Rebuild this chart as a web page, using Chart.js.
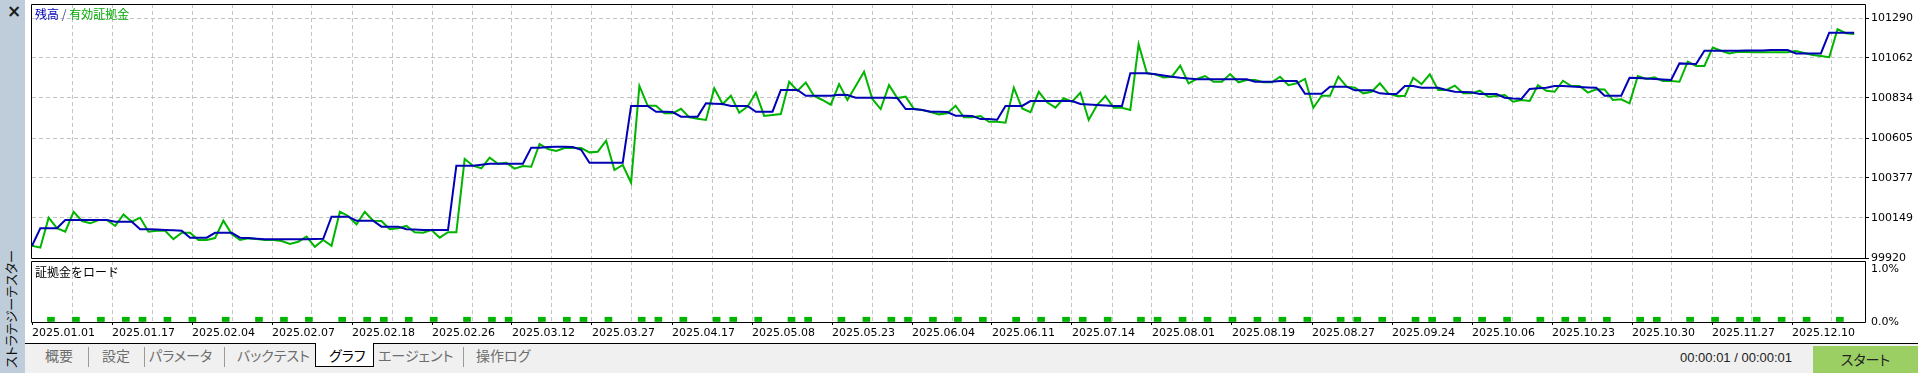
<!DOCTYPE html>
<html>
<head>
<meta charset="utf-8">
<script src="https://cdn.jsdelivr.net/npm/chart.js@4.4.1/dist/chart.umd.min.js"></script>
<style>
  html, body { margin: 0; padding: 0; }
  body { width: 1918px; height: 373px; position: relative; overflow: hidden; background: #fff; font-family: "Noto Sans CJK JP", sans-serif; }
  canvas { position: absolute; left: 0; }
  #side { position: absolute; left: 0; top: 0; width: 25px; height: 373px; background: #bfcddb; }
  #close { position: absolute; left: 7px; top: 1px; font: bold 17px "DejaVu Sans"; color: #1a1a1a; }
  #vtitle { position: absolute; left: 3px; top: 368px; transform: rotate(-90deg); transform-origin: 0 0; font-size: 13px; line-height: 16px; white-space: nowrap; color: #111; font-feature-settings: "palt"; }
  #legend { position: absolute; left: 35px; top: 6px; font-size: 12px; line-height: 16px; white-space: nowrap; }
  #loadTitle { position: absolute; left: 35px; top: 264px; font-size: 12px; line-height: 16px; color: #000; }
  #tabs { position: absolute; left: 25px; top: 343px; width: 1893px; height: 29px; background: #f0f0f0; border-top: 1px solid #000; }
  .tab { position: absolute; top: 347px; font-size: 14px; line-height: 17px; color: #6d6d6d; white-space: nowrap; font-feature-settings: "palt"; }
  .sep { position: absolute; top: 347px; width: 1px; height: 20px; background: #9a9a9a; }
  #active { position: absolute; left: 315px; top: 343px; width: 57px; height: 23px; background: #fff; border: 1px solid #000; border-top: none; }
  #timer { position: absolute; left: 1680px; top: 350px; font: 13px "Liberation Sans", sans-serif; color: #222; }
  #start { position: absolute; left: 1813px; top: 346px; width: 105px; height: 27px; background: #9bcf63; font-size: 14px; line-height: 26px; text-align: center; color: #222; font-feature-settings: "palt"; }
</style>
</head>
<body>
<div id="side"><div id="close">×</div><div id="vtitle">ストラテジーテスター</div></div>
<canvas id="mainChart" width="1918" height="261" style="top:0"></canvas>
<canvas id="loadChart" width="1918" height="82" style="top:261px"></canvas>
<div id="legend"><span style="color:#0000b4">残高</span> <span style="color:#40508a">/</span> <span style="color:#00a800">有効証拠金</span></div>
<div id="loadTitle">証拠金をロード</div>
<div id="tabs"></div>
<span class="tab" style="left:45px">概要</span>
<div class="sep" style="left:88px"></div>
<span class="tab" style="left:102px">設定</span>
<div class="sep" style="left:144px"></div>
<span class="tab" style="left:149px">パラメータ</span>
<div class="sep" style="left:224px"></div>
<span class="tab" style="left:237px">バックテスト</span>
<div id="active"></div>
<span class="tab" style="left:329px;color:#000">グラフ</span>
<span class="tab" style="left:378px">エージェント</span>
<div class="sep" style="left:463px"></div>
<span class="tab" style="left:476px">操作ログ</span>
<div id="timer">00:00:01 / 00:00:01</div>
<div id="start">スタート</div>
<script>
// x axis date labels
const dates = ['2025.01.01', '2025.01.17', '2025.02.04', '2025.02.07', '2025.02.18', '2025.02.26',
  '2025.03.12', '2025.03.27', '2025.04.17', '2025.05.08', '2025.05.23', '2025.06.04', '2025.06.11',
  '2025.07.14', '2025.08.01', '2025.08.19', '2025.08.27', '2025.09.24', '2025.10.06', '2025.10.23',
  '2025.10.30', '2025.11.27', '2025.12.10'];

// right axis ticks
const yTicks = [99920, 100149, 100377, 100605, 100834, 101062, 101290];
const loadTicks = [0, 1];

// 残高
const balance = [
  99990, 100090, 100090, 100090, 100137, 100137, 100137, 100137, 100137, 100137,
  100127, 100127, 100127, 100084, 100084, 100082, 100080, 100078, 100076, 100036,
  100036, 100036, 100064, 100064, 100064, 100036, 100034, 100030, 100027, 100027,
  100027, 100027, 100027, 100027, 100028, 100030, 100156, 100156, 100156, 100133,
  100133, 100133, 100099, 100099, 100099, 100084, 100082, 100080, 100080, 100080,
  100080, 100447, 100447, 100447, 100453, 100458, 100458, 100458, 100458, 100458,
  100550, 100550, 100554, 100555, 100555, 100554, 100538, 100464, 100464, 100464,
  100464, 100464, 100788, 100788, 100788, 100755, 100755, 100753, 100727, 100727,
  100727, 100803, 100801, 100799, 100788, 100788, 100788, 100755, 100755, 100755,
  100879, 100879, 100879, 100846, 100846, 100846, 100846, 100852, 100850, 100835,
  100835, 100835, 100835, 100835, 100833, 100770, 100770, 100765, 100755, 100755,
  100753, 100732, 100732, 100731, 100713, 100713, 100709, 100788, 100788, 100788,
  100816, 100816, 100816, 100816, 100816, 100816, 100799, 100796, 100793, 100790,
  100788, 100788, 100974, 100974, 100974, 100969, 100962, 100955, 100949, 100945,
  100940, 100940, 100940, 100940, 100940, 100940, 100940, 100926, 100926, 100926,
  100930, 100930, 100930, 100858, 100858, 100858, 100898, 100898, 100898, 100877,
  100877, 100877, 100860, 100856, 100856, 100902, 100902, 100892, 100892, 100892,
  100879, 100869, 100868, 100866, 100856, 100856, 100856, 100835, 100830, 100828,
  100885, 100889, 100892, 100902, 100902, 100899, 100896, 100894, 100892, 100846,
  100846, 100846, 100949, 100947, 100945, 100942, 100939, 100936, 101031, 101029,
  101027, 101103, 101103, 101103, 101103, 101103, 101104, 101104, 101104, 101107,
  101107, 101107, 101088, 101088, 101088, 101088, 101206, 101206, 101206, 101206
];

// 有効証拠金
const equity = [
  99990, 99979, 100150, 100090, 100070, 100184, 100131, 100118, 100137, 100137,
  100103, 100169, 100127, 100150, 100070, 100076, 100076, 100028, 100064, 100064,
  100023, 100023, 100034, 100133, 100057, 100023, 100032, 100028, 100023, 100023,
  100017, 100000, 100013, 100042, 99984, 100023, 99990, 100184, 100160, 100112,
  100184, 100133, 100131, 100084, 100090, 100103, 100067, 100064, 100080, 100036,
  100067, 100067, 100485, 100447, 100432, 100493, 100458, 100464, 100430, 100445,
  100441, 100571, 100542, 100531, 100548, 100548, 100548, 100523, 100527, 100590,
  100422, 100451, 100350, 100902, 100789, 100789, 100746, 100746, 100772, 100723,
  100715, 100708, 100889, 100799, 100846, 100749, 100784, 100864, 100731, 100736,
  100742, 100926, 100875, 100921, 100845, 100822, 100795, 100913, 100822, 100902,
  100983, 100828, 100770, 100907, 100833, 100841, 100770, 100765, 100753, 100740,
  100746, 100789, 100723, 100723, 100731, 100698, 100698, 100692, 100892, 100774,
  100752, 100869, 100809, 100778, 100832, 100812, 100864, 100708, 100793, 100845,
  100778, 100778, 100765, 101140, 100974, 100969, 100951, 100955, 101018, 100917,
  100942, 100959, 100926, 100926, 100970, 100923, 100936, 100936, 100923, 100923,
  100955, 100907, 100917, 100942, 100778, 100846, 100846, 100955, 100898, 100892,
  100860, 100869, 100917, 100860, 100845, 100845, 100949, 100913, 100969, 100879,
  100879, 100904, 100860, 100860, 100875, 100841, 100845, 100850, 100812, 100822,
  100816, 100907, 100875, 100869, 100932, 100902, 100902, 100864, 100883, 100882,
  100822, 100826, 100803, 100959, 100942, 100951, 100930, 100930, 100926, 101041,
  101016, 101016, 101121, 101103, 101088, 101098, 101096, 101094, 101094, 101094,
  101094, 101094, 101102, 101090, 101079, 101073, 101066, 101226, 101203, 101199
];

// 証拠金をロード (deal index, %)
const loadIdx = [2, 5, 8, 11, 13, 16, 19, 23, 27, 30, 33, 37, 40, 42, 45, 48, 52, 55, 57, 61,
  64, 66, 69, 73, 75, 78, 82, 84, 87, 91, 93, 97, 100, 103, 105, 108, 111, 114, 118, 121,
  124, 126, 129, 133, 135, 138, 141, 144, 147, 150, 153, 157, 159, 162, 166, 168, 171, 174, 177, 181,
  184, 186, 189, 193, 195, 199, 202, 205, 207, 210, 213, 217];
const loadPct = [0.09, 0.09, 0.09, 0.09, 0.09, 0.09, 0.09, 0.09, 0.09, 0.09, 0.09, 0.09, 0.09, 0.09, 0.09, 0.09, 0.09, 0.09, 0.09, 0.09,
  0.09, 0.09, 0.09, 0.09, 0.09, 0.09, 0.09, 0.09, 0.09, 0.09, 0.09, 0.09, 0.09, 0.09, 0.09, 0.09, 0.09, 0.09, 0.09, 0.09,
  0.09, 0.09, 0.09, 0.09, 0.09, 0.09, 0.09, 0.09, 0.09, 0.09, 0.09, 0.09, 0.09, 0.09, 0.09, 0.09, 0.09, 0.09, 0.09, 0.09,
  0.09, 0.09, 0.09, 0.09, 0.09, 0.09, 0.09, 0.09, 0.09, 0.09, 0.09, 0.09];

const GRID = '#c4c4c4';
const DASH = [4, 3];
const numFont = {family: 'DejaVu Sans', size: 11};

// black frame round the plot area
const frame = {
  id: 'frame',
  afterDraw(chart) {
    const {ctx, chartArea: {left, right, top, bottom}} = chart;
    ctx.save();
    ctx.strokeStyle = '#000';
    ctx.lineWidth = 1;
    ctx.beginPath();
    ctx.moveTo(left - 0.5, top + 0.5);
    ctx.lineTo(right + 0.5, top + 0.5);
    ctx.lineTo(right + 0.5, bottom + 0.5);
    ctx.lineTo(left - 0.5, bottom + 0.5);
    ctx.closePath();
    ctx.stroke();
    ctx.restore();
  }
};

// dashed vertical grid every 40px
const gridAxis = () => ({
  type: 'linear',
  offset: false,
  min: 0,
  max: 45.825,
  afterBuildTicks: (s) => {
    const t = [];
    for (let k = 1; k <= 45; k++) t.push({value: k});
    s.ticks = t;
  },
  ticks: {display: false},
  grid: {drawTicks: false, color: GRID, offset: false},
  border: {display: false, dash: DASH},
  afterFit: (s) => { s.height = 0; s.paddingLeft = 0; s.paddingRight = 0; }
});

const rightAxis = (extra) => Object.assign({
  position: 'right',
  border: {display: false, dash: DASH},
  afterFit: (s) => { s.width = 53; s.paddingTop = 0; s.paddingBottom = 0; }
}, extra);

const toXY = (arr) => arr.map((v, i) => ({x: i, y: v}));

const mainChart = new Chart(document.getElementById('mainChart'), {
  type: 'line',
  data: {
    datasets: [{
      data: toXY(balance),
      borderColor: '#0000b4',
      borderWidth: 2,
      pointRadius: 0,
      xAxisID: 'x',
      yAxisID: 'y'
    }, {
      data: toXY(equity),
      borderColor: '#00b400',
      borderWidth: 2,
      pointRadius: 0,
      xAxisID: 'x',
      yAxisID: 'y'
    }]
  },
  options: {
    responsive: false,
    animation: false,
    devicePixelRatio: 1,
    layout: {padding: {left: 32, top: 4, right: 0, bottom: 3}},
    plugins: {legend: {display: false}, tooltip: {enabled: false}},
    scales: {
      x: {type: 'linear', display: false, min: 0, max: 220.3},
      xg: gridAxis(),
      y: rightAxis({
        min: 99920,
        max: 101370,
        afterBuildTicks: (s) => { s.ticks = yTicks.map(v => ({value: v})); },
        ticks: {font: numFont, color: '#000', padding: 2, callback: (v) => String(v)},
        grid: {color: GRID, tickColor: '#000', tickLength: 4}
      })
    }
  },
  plugins: [frame]
});

const loadChart = new Chart(document.getElementById('loadChart'), {
  type: 'bar',
  data: {
    datasets: [{
      data: loadIdx.map((x, k) => ({x: x, y: loadPct[k]})),
      backgroundColor: '#00b400',
      barThickness: 7,
      xAxisID: 'xb',
      yAxisID: 'y'
    }]
  },
  options: {
    responsive: false,
    animation: false,
    devicePixelRatio: 1,
    layout: {padding: {left: 32, top: 0, right: 0, bottom: 0}},
    plugins: {legend: {display: false}, tooltip: {enabled: false}},
    scales: {
      xb: {type: 'linear', display: false, offset: false, grid: {offset: false}, min: -0.28, max: 220.02},
      xg: gridAxis(),
      xd: {
        type: 'linear',
        position: 'bottom',
        offset: false,
        min: 0,
        max: 22.9125,
        afterBuildTicks: (s) => { s.ticks = dates.map((d, k) => ({value: k})); },
        ticks: {
          callback: (v, k) => dates[k],
          align: 'start',
          autoSkip: false,
          maxRotation: 0,
          font: numFont,
          color: '#000',
          padding: 2
        },
        grid: {drawOnChartArea: false, offset: false, tickLength: 3, tickColor: '#000'},
        border: {display: false},
        afterFit: (s) => { s.height = 21; s.paddingLeft = 0; s.paddingRight = 0; }
      },
      y: rightAxis({
        min: 0,
        max: 1.15,
        afterBuildTicks: (s) => { s.ticks = loadTicks.map(v => ({value: v})); },
        ticks: {font: numFont, color: '#000', padding: 6, callback: (v) => v.toFixed(1) + '%'},
        grid: {drawOnChartArea: false, drawTicks: false}
      })
    }
  },
  plugins: [frame]
});
</script>
</body>
</html>
